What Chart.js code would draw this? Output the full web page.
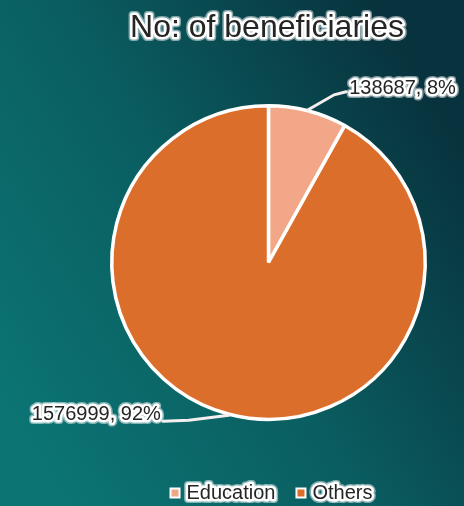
<!DOCTYPE html>
<html>
<head>
<meta charset="utf-8">
<script src="https://cdn.jsdelivr.net/npm/chart.js@4"></script>
<style>
  html, body { margin: 0; padding: 0; background: #0c5a60; }
  #wrap { width: 464px; height: 506px; }
</style>
</head>
<body>
<div id="wrap"><canvas id="myChart" width="464" height="506"></canvas></div>
<script>
const categories = ["Education", "Others"];
const beneficiaries = [138687, 1576999];
const sliceColors = ["#f2a888", "#dc6e2b"];
const chartTitle = "No: of beneficiaries";

// where each data label sits relative to its slice edge
const labelOffsets = [
  { elbow: [26, -15], end: [38, -18], align: "left" },
  { elbow: [-40, 5], end: [-66, 6], align: "right" }
];

const FONT = "'Liberation Sans', Arial, sans-serif";

function outlinedText(ctx, text, x, y, size, align) {
  ctx.save();
  ctx.font = size + "px " + FONT;
  ctx.textAlign = align;
  ctx.textBaseline = "middle";
  ctx.lineJoin = "round";
  ctx.strokeStyle = "rgba(255,255,255,0.5)";
  ctx.lineWidth = 8;
  ctx.strokeText(text, x, y);
  ctx.strokeStyle = "#ffffff";
  ctx.lineWidth = 5;
  ctx.strokeText(text, x, y);
  ctx.fillStyle = "#252525";
  ctx.fillText(text, x, y);
  ctx.restore();
}

const backdrop = {
  id: "backdrop",
  beforeDraw(chart) {
    const ctx = chart.ctx;
    const g = ctx.createLinearGradient(0, 420, chart.width, 140);
    g.addColorStop(0, "#0c7574");
    g.addColorStop(0.5, "#0a5d60");
    g.addColorStop(1, "#08323d");
    ctx.save();
    ctx.fillStyle = g;
    ctx.fillRect(0, 0, chart.width, chart.height);
    ctx.restore();
  }
};

const decorations = {
  id: "decorations",
  afterDraw(chart) {
    const ctx = chart.ctx;
    const meta = chart.getDatasetMeta(0);
    const values = chart.data.datasets[0].data;
    const total = values.reduce((a, b) => a + b, 0);

    // title
    outlinedText(ctx, chartTitle, 267, 28, 32, "center");

    // data labels with leader lines
    meta.data.forEach((arc, i) => {
      const mid = (arc.startAngle + arc.endAngle) / 2;
      const sx = arc.x + Math.cos(mid) * (arc.outerRadius + 1);
      const sy = arc.y + Math.sin(mid) * (arc.outerRadius + 1);
      const o = labelOffsets[i];
      const ex = sx + o.end[0], ey = sy + o.end[1];
      ctx.save();
      ctx.strokeStyle = "#f4eeee";
      ctx.lineWidth = 3;
      ctx.lineCap = "round";
      ctx.beginPath();
      ctx.moveTo(sx, sy);
      ctx.lineTo(sx + o.elbow[0], sy + o.elbow[1]);
      ctx.lineTo(ex, ey);
      ctx.stroke();
      ctx.restore();
      const pct = Math.round(values[i] / total * 100);
      const txt = values[i] + ", " + pct + "%";
      if (o.align === "left") outlinedText(ctx, txt, ex + 3, ey - 3, 20, "left");
      else outlinedText(ctx, txt, ex - 2, ey - 7, 20, "right");
    });

    // legend
    ctx.save();
    ctx.font = "20px " + FONT;
    const items = chart.data.labels.map((l, i) => ({ l, w: ctx.measureText(l).width }));
    const box = 7, gap = 8, spacing = 22;
    let totalW = items.reduce((s, it) => s + box + gap + it.w, 0) + spacing * (items.length - 1);
    let x = 272 - totalW / 2;
    const y = 493;
    items.forEach((it, i) => {
      ctx.fillStyle = "#ffffff";
      ctx.fillRect(x - 2, y - box / 2 - 2, box + 4, box + 4);
      ctx.fillStyle = sliceColors[i];
      ctx.fillRect(x, y - box / 2, box, box);
      x += box + gap;
      outlinedText(ctx, it.l, x, y, 20, "left");
      x += it.w + spacing;
    });
    ctx.restore();
  }
};

const ctx = document.getElementById("myChart").getContext("2d");
const chart = new Chart(ctx, {
  type: "pie",
  data: {
    labels: categories,
    datasets: [{
      data: beneficiaries,
      backgroundColor: sliceColors,
      borderColor: "#ffffff",
      borderWidth: 3.5
    }]
  },
  options: {
    responsive: false,
    animation: false,
    layout: { padding: { left: 110, right: 37, top: 104, bottom: 85 } },
    plugins: {
      legend: { display: false },
      title: { display: false },
      tooltip: { enabled: false }
    }
  },
  plugins: [backdrop, decorations]
});
</script>
</body>
</html>
